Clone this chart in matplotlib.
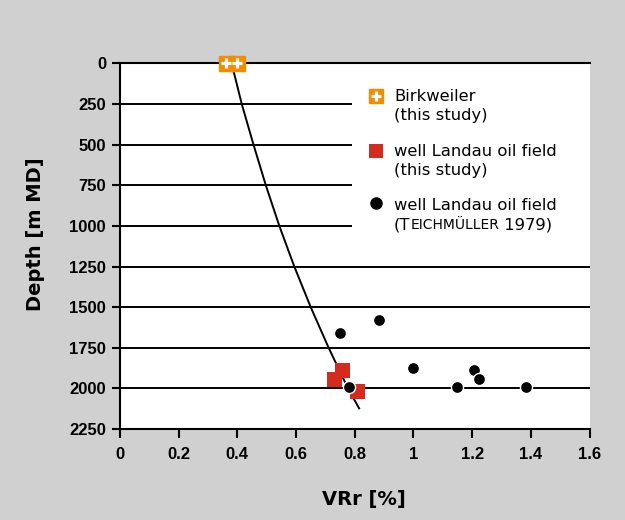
import matplotlib
matplotlib.use('Agg')
import matplotlib.pyplot as plt
from matplotlib.transforms import offset_copy

# data
birk_vr = [0.36, 0.40]
birk_depth = [0, 0]

landau_vr = [0.758, 0.729, 0.809]
landau_depth = [1884, 1945, 2016]

teich_vr = [0.750, 0.883, 1.000, 1.207, 1.223, 1.149, 0.782, 1.385]
teich_depth = [1657, 1579, 1873, 1887, 1942, 1990, 1993, 1993]

# trend curve, read at the grid lines
trend_depth = [0, 90, 250, 500, 750, 1000, 1250, 1500, 1750, 2000, 2123]
trend_vr = [0.380, 0.393, 0.415, 0.455, 0.497, 0.543, 0.594, 0.650, 0.711, 0.777, 0.815]

grid_short = [250, 500, 750, 1000]
grid_long = [1250, 1500, 1750, 2000]

y_ticks = [0, 250, 500, 750, 1000, 1250, 1500, 1750, 2000, 2250]
x_ticks = [0, 0.2, 0.4, 0.6, 0.8, 1.0, 1.2, 1.4, 1.6]
x_labels = ['0', '0.2', '0.4', '0.6', '0.8', '1', '1.2', '1.4', '1.6']

bg = '#cfd0cf'
orange = '#f28c00'
red = '#d52b1e'

fig = plt.figure(figsize=(6.25, 5.2), dpi=100, facecolor=bg)
ax = fig.add_axes([0.192, 0.175, 0.7512, 0.7029])
ax.set_facecolor('white')

ax.set_xlim(0, 1.6)
ax.set_ylim(2250, 0)

# grid lines
ax.hlines(grid_short, 0, 0.79, color='black', lw=1.4, zorder=1)
ax.hlines(grid_long, 0, 1.6, color='black', lw=1.4, zorder=1)

# trend line
ax.plot(trend_vr, trend_depth, color='black', lw=1.4, zorder=2)

# data points
ax.plot(birk_vr, birk_depth, 's', ms=10.8, color=orange, mec=orange, clip_on=False, zorder=5)
ax.plot(birk_vr, birk_depth, '+', ms=6.8, mew=2.3, color='white', clip_on=False, zorder=6)
ax.plot(landau_vr, landau_depth, 's', ms=10.8, color=red, mec=red, mew=0, zorder=3)
ax.plot(teich_vr, teich_depth, 'o', ms=8.7, color='black', mec='white', mew=1.0, zorder=4)

# spines and ticks
ax.spines['right'].set_visible(False)
for s in ['left', 'bottom', 'top']:
    ax.spines[s].set_linewidth(1.5)
ax.set_yticks(y_ticks)
ax.set_xticks(x_ticks)
ax.set_xticklabels(x_labels)
ax.tick_params(axis='y', direction='out', length=6, width=1.5, pad=4)
ax.tick_params(axis='x', direction='out', length=6.5, width=1.5, pad=6.5)
for lab in ax.get_xticklabels() + ax.get_yticklabels():
    lab.set_fontfamily('Liberation Sans')
    lab.set_fontweight('bold')
    lab.set_fontsize(12)

ax.set_xlabel('VRr [%]', fontsize=14, fontweight='bold', family='DejaVu Sans')
ax.xaxis.set_label_coords((364 - 120) / 469.5, -(489.5 - 429) / 365.5)
ax.set_ylabel('Depth [m MD]', fontsize=14, fontweight='bold', family='DejaVu Sans')
ax.yaxis.set_label_coords(-(120 - 45) / 469.5, 1 - (234 - 63.5) / 365.5)


# legend drawn by hand so the markers line up with the first text line
def ypix(p):
    return 1 - (p - 63.5) / 365.5


leg_x = (376 - 120) / 469.5
txt_x = (394 - 120) / 469.5
ax.plot(leg_x, ypix(96), 's', ms=10.5, color=orange, transform=ax.transAxes, clip_on=False)
ax.plot(leg_x, ypix(96), '+', ms=6.6, mew=2.3, color='white', transform=ax.transAxes, clip_on=False)
ax.plot(leg_x, ypix(151), 's', ms=10.5, color=red, mew=0, transform=ax.transAxes, clip_on=False)
ax.plot(leg_x, ypix(203.5), 'o', ms=8, color='black', transform=ax.transAxes, clip_on=False)

fs = 11.8
lines = [('Birkweiler', 101), ('(this study)', 120),
         ('well Landau oil field', 156.5), ('(this study)', 175.5),
         ('well Landau oil field', 210)]
for s, yp in lines:
    ax.text(txt_x, ypix(yp), s, transform=ax.transAxes, fontsize=fs,
            family='DejaVu Sans', va='baseline', ha='left')

# last line in small caps: (TEICHMÜLLER 1979)
renderer = fig.canvas.get_renderer()
parts = [('(T', fs), ('EICHMÜLLER', fs * 0.85), (' 1979)', fs)]
dx = 0
for s, size in parts:
    tr = offset_copy(ax.transAxes, fig=fig, x=dx, y=0, units='dots')
    t = ax.text(txt_x, ypix(229.5), s, transform=tr, fontsize=size,
                family='DejaVu Sans', va='baseline', ha='left')
    dx += t.get_window_extent(renderer).width

fig.savefig('out.png', dpi=100, facecolor=bg)
